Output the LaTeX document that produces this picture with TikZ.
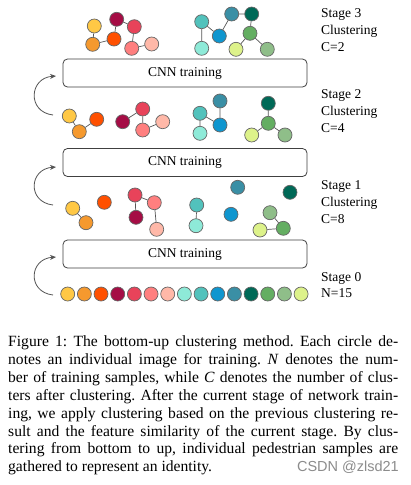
\documentclass[tikz,border=0pt]{standalone}
\usepackage{fontspec}
\setmainfont{Liberation Serif}
\newfontfamily\wmfont{Liberation Sans}
\usetikzlibrary{arrows.meta}
\definecolor{c1}{HTML}{FFC845}
\definecolor{c2}{HTML}{F5992E}
\definecolor{c3}{HTML}{FF5000}
\definecolor{c4}{HTML}{A50D45}
\definecolor{c5}{HTML}{E8435A}
\definecolor{c6}{HTML}{FF7F7F}
\definecolor{c7}{HTML}{FFB8A8}
\definecolor{c8}{HTML}{8EEAD8}
\definecolor{c9}{HTML}{52C2BC}
\definecolor{c10}{HTML}{0F96CF}
\definecolor{c11}{HTML}{3A8FA5}
\definecolor{c12}{HTML}{006957}
\definecolor{c13}{HTML}{64AE62}
\definecolor{c14}{HTML}{8FBE89}
\definecolor{c15}{HTML}{DDF28A}
\definecolor{edgegray}{HTML}{555555}
\tikzset{
  smp/.style={circle, draw=black!60, line width=0.7pt, minimum size=14pt, inner sep=0pt},
  lnk/.style={draw=edgegray, line width=0.7pt},
  cnnbox/.style={draw=black!75, line width=0.8pt, rounded corners=4.5pt, minimum width=244pt, minimum height=28pt, inner sep=0pt, font=\fontsize{13.5}{16}\selectfont},
  lbl/.style={anchor=base west, inner sep=0pt, font=\fontsize{13.5}{16}\selectfont},
  captxt/.style={anchor=base west, inner sep=0pt, font=\fontsize{15.6}{18}\selectfont},
  uparrow/.style={draw=edgegray, line width=0.8pt, -{Stealth[length=6pt,width=5pt]}},
}
\frenchspacing
\newcommand{\capline}[1]{\makebox[390pt][s]{#1}}
\begin{document}
\frenchspacing
\begin{tikzpicture}[x=1pt,y=-1pt]
\useasboundingbox (0,0) rectangle (410,485);
\fill[white] (0,0) rectangle (410,485);

% ---------- boxes ----------
\node[cnnbox] (box3) at (185,73) {CNN training};
\node[cnnbox] (box2) at (185,162.5) {CNN training};
\node[cnnbox] (box1) at (185,254) {CNN training};

% ---------- Stage 3 ----------
\node[smp, fill=c1] (s3y) at (94.3,26) {};
\node[smp, fill=c2] (s3o) at (92.7,44.3) {};
\node[smp, fill=c3] (s3r) at (114,39) {};
\node[smp, fill=c4] (s3c) at (116.7,19.3) {};
\node[smp, fill=c5] (s3p) at (134.3,26.7) {};
\node[smp, fill=c6] (s3s) at (131.7,48.3) {};
\node[smp, fill=c7] (s3l) at (151.7,44) {};
\node[smp, fill=c9] (s3t) at (201.7,21.7) {};
\node[smp, fill=c8] (s3lc) at (201.7,48.3) {};
\node[smp, fill=c10] (s3b) at (219.3,36) {};
\node[smp, fill=c11] (s3st) at (231.7,14) {};
\node[smp, fill=c12] (s3dt) at (251.7,14) {};
\node[smp, fill=c13] (s3g) at (250,33.3) {};
\node[smp, fill=c15] (s3ly) at (236,49.3) {};
\node[smp, fill=c14] (s3lg) at (267.3,49.3) {};
\path[lnk] (s3y)--(s3o) (s3o)--(s3r) (s3c)--(s3r) (s3c)--(s3p) (s3p)--(s3s) (s3s)--(s3l)
  (s3t)--(s3lc) (s3t)--(s3b) (s3b)--(s3st) (s3st)--(s3dt) (s3dt)--(s3g) (s3g)--(s3ly) (s3g)--(s3lg);

% ---------- Stage 2 ----------
\node[smp, fill=c1] (s2y) at (69.3,116) {};
\node[smp, fill=c2] (s2o) at (79.3,131.7) {};
\node[smp, fill=c3] (s2r) at (96.7,119.3) {};
\node[smp, fill=c4] (s2c) at (122.7,121.7) {};
\node[smp, fill=c5] (s2p) at (142.7,109) {};
\node[smp, fill=c6] (s2s) at (142.7,130) {};
\node[smp, fill=c7] (s2l) at (162.7,121.7) {};
\node[smp, fill=c9] (s2t) at (200,113.3) {};
\node[smp, fill=c8] (s2lc) at (200,133.3) {};
\node[smp, fill=c11] (s2st) at (220,101) {};
\node[smp, fill=c10] (s2b) at (220,125) {};
\node[smp, fill=c12] (s2dt) at (268.3,103.3) {};
\node[smp, fill=c13] (s2g) at (268.3,123.3) {};
\node[smp, fill=c15] (s2ly) at (251.7,135) {};
\node[smp, fill=c14] (s2lg) at (285,135) {};
\path[lnk] (s2y)--(s2o) (s2o)--(s2r) (s2c)--(s2p) (s2p)--(s2s) (s2s)--(s2l)
  (s2t)--(s2lc) (s2t)--(s2b) (s2st)--(s2b) (s2dt)--(s2g) (s2g)--(s2ly) (s2g)--(s2lg);

% ---------- Stage 1 ----------
\node[smp, fill=c1] (s1y) at (72.7,208.3) {};
\node[smp, fill=c2] (s1o) at (86,222.7) {};
\node[smp, fill=c3] (s1r) at (104.3,202.3) {};
\node[smp, fill=c5] (s1p) at (135,195) {};
\node[smp, fill=c4] (s1c) at (136,217.3) {};
\node[smp, fill=c6] (s1s) at (154.3,202.7) {};
\node[smp, fill=c7] (s1l) at (156.7,229.3) {};
\node[smp, fill=c9] (s1t) at (196.7,205) {};
\node[smp, fill=c8] (s1lc) at (196,225.7) {};
\node[smp, fill=c11] (s1st) at (237.7,187.3) {};
\node[smp, fill=c10] (s1b) at (231,214.3) {};
\node[smp, fill=c12] (s1dt) at (290,192.3) {};
\node[smp, fill=c14] (s1lg) at (270,212.7) {};
\node[smp, fill=c13] (s1g) at (283.3,228.3) {};
\node[smp, fill=c15] (s1ly) at (260,230) {};
\path[lnk] (s1y)--(s1o) (s1p)--(s1c) (s1p)--(s1s) (s1s)--(s1l)
  (s1t)--(s1lc) (s1lg)--(s1g) (s1ly)--(s1g);

% ---------- Stage 0 ----------
\foreach \i in {1,...,15}{
  \node[smp, fill=c\i] (s0n\i) at ({67.7+(\i-1)*16.67},294) {};
}

% ---------- arrows ----------
\coordinate (a3s) at (53,115);  \coordinate (a3e) at (56,76);
\coordinate (a2s) at (53,205);  \coordinate (a2e) at (56,167);
\coordinate (a1s) at (53,295);  \coordinate (a1e) at (56,257);
\draw[uparrow] (a3s) .. controls (27,112) and (29,78) .. (a3e);
\draw[uparrow] (a2s) .. controls (27,202) and (29,169) .. (a2e);
\draw[uparrow] (a1s) .. controls (27,292) and (29,259) .. (a1e);

% ---------- stage labels ----------
\node[lbl] (l3a) at (321,17.3) {Stage 3};
\node[lbl] (l3b) at (321,34.3) {Clustering};
\node[lbl] (l3c) at (321,51.3) {C=2};
\node[lbl] (l2a) at (321,98.3) {Stage 2};
\node[lbl] (l2b) at (321,115.3) {Clustering};
\node[lbl] (l2c) at (321,132.3) {C=4};
\node[lbl] (l1a) at (321,189) {Stage 1};
\node[lbl] (l1b) at (321,206) {Clustering};
\node[lbl] (l1c) at (321,223) {C=8};
\node[lbl] (l0a) at (321,281.7) {Stage 0};
\node[lbl] (l0b) at (321,297.7) {N=15};

% ---------- caption ----------
\node[captxt] (cp1) at (8,346.7) {\capline{Figure 1: The bottom-up clustering method. Each circle de-}};
\node[captxt] (cp2) at (8,364.6) {\capline{notes an individual image for training. \textit{N} denotes the num-}};
\node[captxt] (cp3) at (8,382.4) {\capline{ber of training samples, while \textit{C} denotes the number of clus-}};
\node[captxt] (cp4) at (8,400.3) {\capline{ters after clustering. After the current stage of network train-}};
\node[captxt] (cp5) at (8,418.1) {\capline{ing, we apply clustering based on the previous clustering re-}};
\node[captxt] (cp6) at (8,436) {\capline{sult and the feature similarity of the current stage. By clus-}};
\node[captxt] (cp7) at (8,453.8) {\capline{tering from bottom to up, individual pedestrian samples are}};
\node[captxt] (cp8) at (8,471.7) {gathered to represent an identity.};
\node[anchor=base east, inner sep=0pt, text=black!45, font=\wmfont\fontsize{14.5}{17}\selectfont] (wm) at (399,471.7) {CSDN @zlsd21};
\end{tikzpicture}
\end{document}
